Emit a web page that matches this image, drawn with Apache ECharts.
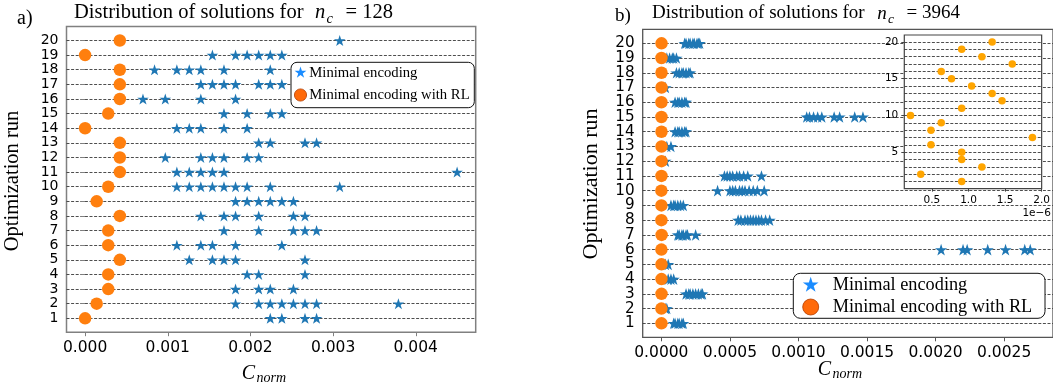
<!DOCTYPE html>
<html>
<head>
<meta charset="utf-8">
<script src="https://cdn.jsdelivr.net/npm/echarts@6/dist/echarts.min.js"></script>
<style>
  html, body { margin: 0; padding: 0; background: #fff; }
  #chart { width: 1053px; height: 392px; }
</style>
</head>
<body>
<div id="chart"></div>
<script>
// Optimization runs (y positions)
const runs = [1, 2, 3, 4, 5, 6, 7, 8, 9, 10, 11, 12, 13, 14, 15, 16, 17, 18, 19, 20];

// Panel a) n_c = 128 : best cost of RL-assisted runs, one per run
const rlA = [0, 0.00014, 0.00028, 0.00028, 0.00042, 0.00028, 0.00028, 0.00042, 0.00014, 0.00028,
             0.00042, 0.00042, 0.00042, 0, 0.00028, 0.00042, 0.00042, 0.00042, 0, 0.00042];

// Panel a) plain minimal encoding solutions per run (index = run - 1)
const minA = [
  [0.00224, 0.00238, 0.00266, 0.00280],
  [0.00182, 0.00210, 0.00224, 0.00238, 0.00252, 0.00266, 0.00280, 0.00379],
  [0.00182, 0.00210, 0.00224, 0.00252],
  [0.00196, 0.00210, 0.00266],
  [0.00126, 0.00154, 0.00168, 0.00182, 0.00266],
  [0.00111, 0.00140, 0.00154, 0.00182, 0.00238],
  [0.00168, 0.00210, 0.00252, 0.00266, 0.00280],
  [0.00140, 0.00168, 0.00182, 0.00210, 0.00252, 0.00266],
  [0.00182, 0.00196, 0.00210, 0.00224, 0.00238, 0.00252],
  [0.00111, 0.00126, 0.00140, 0.00154, 0.00168, 0.00182, 0.00196, 0.00224, 0.00308],
  [0.00111, 0.00126, 0.00140, 0.00154, 0.00168, 0.00450],
  [0.00097, 0.00140, 0.00154, 0.00168, 0.00196, 0.00210],
  [0.00210, 0.00224, 0.00266, 0.00280],
  [0.00111, 0.00126, 0.00140, 0.00168, 0.00196],
  [0.00168, 0.00196, 0.00224, 0.00238],
  [0.00070, 0.00097, 0.00140, 0.00182],
  [0.00140, 0.00154, 0.00168, 0.00182, 0.00210, 0.00224, 0.00238],
  [0.00084, 0.00111, 0.00126, 0.00140, 0.00168, 0.00224],
  [0.00154, 0.00182, 0.00196, 0.00210, 0.00224, 0.00238],
  [0.00308]
];

// Panel b) n_c = 3964 : RL-assisted results (also shown magnified in the inset)
const rlB = [0.907e-6, 0.347e-6, 1.183e-6, 0.907e-6, 0.907e-6, 0.487e-6, 1.874e-6, 0.487e-6, 0.627e-6, 0.207e-6,
             0.907e-6, 1.458e-6, 1.323e-6, 1.043e-6, 0.767e-6, 0.627e-6, 1.598e-6, 1.183e-6, 0.907e-6, 1.323e-6];

// Panel b) plain minimal encoding solutions per run
const minB = [
  [0.00009, 0.00010, 0.00012, 0.00013, 0.00015, 0.00016],
  [0.00003, 0.00004],
  [0.00018, 0.00020, 0.00021, 0.00023, 0.00025, 0.00027, 0.00029, 0.00030],
  [0.00005, 0.00007, 0.00009],
  [0.00003, 0.00005],
  [0.00204, 0.00220, 0.00223, 0.00238, 0.00251, 0.00265, 0.00269],
  [0.00012, 0.00013, 0.00015, 0.00016, 0.00018, 0.00019, 0.00025],
  [0.00056, 0.00058, 0.00061, 0.00063, 0.00065, 0.00067, 0.00069, 0.00071, 0.00073, 0.00076, 0.00079],
  [0.00007, 0.00009, 0.00010, 0.00012, 0.00014, 0.00016],
  [0.00041, 0.00050, 0.00052, 0.00054, 0.00057, 0.00059, 0.00061, 0.00064, 0.00067, 0.00070, 0.00075],
  [0.00046, 0.00048, 0.00050, 0.00052, 0.00055, 0.00057, 0.00060, 0.00063, 0.00073],
  [0.00003],
  [0.00004, 0.00007],
  [0.00010, 0.00012, 0.00013, 0.00015, 0.00017, 0.00018],
  [0.00106, 0.00108, 0.00111, 0.00114, 0.00117, 0.00126, 0.00130, 0.00141, 0.00147],
  [0.00010, 0.00012, 0.00013, 0.00015, 0.00017, 0.00018],
  [0.00003],
  [0.00011, 0.00013, 0.00015, 0.00016, 0.00018, 0.00020, 0.00021],
  [0.00004, 0.00006, 0.00008, 0.00009, 0.00011],
  [0.00017, 0.00018, 0.00020, 0.00021, 0.00023, 0.00024, 0.00026, 0.00027, 0.00028]
];

// Tick positions
const ticksA = [0, 0.001, 0.002, 0.003, 0.004];
const ticksB = [0, 0.0005, 0.001, 0.0015, 0.002, 0.0025];
const ticksInsetX = [0.5e-6, 1.0e-6, 1.5e-6, 2.0e-6];
const ticksInsetY = [5, 10, 15, 20];

const NAME_MIN = 'Minimal encoding';
const NAME_RL = 'Minimal encoding with RL';

// matplotlib-like five-pointed star (100x100 box, centre 50,50)
const STAR_PTS = [[50, 0], [61.2, 34.5], [97.6, 34.5], [68.2, 55.9], [79.4, 90.5],
                  [50, 69.1], [20.6, 90.5], [31.8, 55.9], [2.4, 34.5], [38.8, 34.5]];
const STAR = 'path://M' + STAR_PTS.map(p => p.join(',')).join('L') + 'Z';

const SERIF = '"Liberation Serif", "Times New Roman", serif';
const SANS = '"DejaVu Sans", sans-serif';

const toPoints = (lists) => lists.flatMap((xs, i) => xs.map(x => [x, runs[i]]));
const rlPoints = (vals) => vals.map((x, i) => [x, runs[i]]);

const gridDash = { color: '#3a3a3a', width: 0.9, type: [3, 1.6] };

function runAxis(gridIndex, frameColor, fontSize) {
  return {
    gridIndex, type: 'value', min: 0.05, max: 20.95,
    axisLine: { show: false },
    axisTick: { customValues: runs, length: 4, lineStyle: { color: frameColor, width: 1 } },
    axisLabel: { show: fontSize > 0, customValues: runs, margin: 8, fontFamily: SANS, fontSize: fontSize || 12, color: '#000',
                 showMinLabel: true, showMaxLabel: true, hideOverlap: false },
    splitLine: { show: true, lineStyle: gridDash }
  };
}

// Label-only run axis (odd or even runs) so the larger labels never collide
function runLabelAxis(gridIndex, values, fontSize) {
  return {
    gridIndex, type: 'value', min: 0.05, max: 20.95, position: 'left', offset: 0,
    axisLine: { show: false },
    axisTick: { show: false, customValues: values },
    axisLabel: { customValues: values, margin: 8, fontFamily: SANS, fontSize, color: '#000',
                 showMinLabel: true, showMaxLabel: true },
    splitLine: { show: false }
  };
}

// Legend key star as a polygon centred on (cx, cy)
function starKey(cx, cy, size, color) {
  return {
    type: 'polygon', z: 101,
    shape: { points: STAR_PTS.map(([x, y]) => [cx + (x - 50) * size / 100, cy + (y - 50) * size / 100]) },
    style: { fill: color }
  };
}

// Legend box drawn as a graphic group: rounded frame, star + circle keys, labels
function legendBox(x, y, w, h, r, keyX, row1, row2, textX, fontSize, starSize, dotR) {
  const txt = (t, yy) => ({
    type: 'text', x: textX, y: yy, z: 101,
    style: { text: t, fontFamily: SERIF, fontSize, fill: '#000', align: 'left', verticalAlign: 'middle' }
  });
  return {
    type: 'group', z: 100,
    children: [
      { type: 'rect', z: 100, shape: { x, y, width: w, height: h, r },
        style: { fill: '#fff', stroke: '#111', lineWidth: 1 } },
      starKey(keyX, row1, starSize, '#1a8cff'),
      { type: 'circle', z: 101, shape: { cx: keyX, cy: row2, r: dotR },
        style: { fill: '#ff6a0a', stroke: '#b33c00', lineWidth: 0.8 } },
      txt(NAME_MIN, row1 + 0.5),
      txt(NAME_RL, row2 + 0.5)
    ]
  };
}

const oddRuns = runs.filter(r => r % 2 === 1);
const evenRuns = runs.filter(r => r % 2 === 0);

const chart = echarts.init(document.getElementById('chart'), null, { renderer: 'canvas' });

chart.setOption({
  animation: false,
  backgroundColor: '#fff',
  grid: [
    { left: 66.5, top: 26.6, width: 409.2, height: 305.6, show: true, borderColor: '#808080', borderWidth: 1.5, backgroundColor: 'transparent' },
    { left: 642.7, top: 29.3, width: 417, height: 308, show: true, borderColor: '#555', borderWidth: 1.3, backgroundColor: 'transparent' },
    { left: 904.3, top: 35, width: 148, height: 153.6, show: true, borderColor: '#444', borderWidth: 1.2, backgroundColor: '#fff', z: 5 }
  ],
  xAxis: [
    {
      gridIndex: 0, type: 'value', min: -0.000225, max: 0.004725,
      axisLine: { show: false },
      axisTick: { customValues: ticksA, length: 4, lineStyle: { color: '#808080' } },
      axisLabel: { customValues: ticksA, margin: 8, fontFamily: SANS, fontSize: 15.5, color: '#000', formatter: v => v.toFixed(3) },
      splitLine: { show: false }
    },
    {
      gridIndex: 1, type: 'value', min: -0.000136, max: 0.002856,
      axisLine: { show: false },
      axisTick: { customValues: ticksB, length: 4, lineStyle: { color: '#555' } },
      axisLabel: { customValues: ticksB, margin: 8, fontFamily: SANS, fontSize: 15.5, color: '#000', formatter: v => v.toFixed(4) },
      splitLine: { show: false }
    },
    {
      gridIndex: 2, type: 'value', min: 0.122e-6, max: 2.0e-6, z: 6,
      axisLine: { show: false },
      axisTick: { customValues: ticksInsetX, length: 3, lineStyle: { color: '#444' } },
      axisLabel: { customValues: ticksInsetX, margin: 6, fontFamily: SANS, fontSize: 10.5, color: '#000',
                   showMaxLabel: true, formatter: v => (v * 1e6).toFixed(1) },
      splitLine: { show: false }
    }
  ],
  yAxis: [
    runAxis(0, '#808080', 14),
    runAxis(1, '#555', 0),
    runLabelAxis(1, oddRuns, 15.2),
    runLabelAxis(1, evenRuns, 15.2),
    {
      gridIndex: 2, type: 'value', min: 0.05, max: 20.95, z: 6,
      axisLine: { show: false },
      axisTick: { show: false, customValues: runs },
      axisLabel: { show: false },
      splitLine: { show: true, lineStyle: gridDash }
    },
    {
      gridIndex: 2, type: 'value', min: 0.05, max: 20.95, position: 'left', z: 6,
      axisLine: { show: false },
      axisTick: { customValues: ticksInsetY, length: 3, lineStyle: { color: '#444' } },
      axisLabel: { customValues: ticksInsetY, margin: 6, fontFamily: SANS, fontSize: 10.5, color: '#000' },
      splitLine: { show: false }
    }
  ],
  series: [
    { name: NAME_MIN, type: 'scatter', xAxisIndex: 0, yAxisIndex: 0, symbol: STAR, symbolSize: [11.6, 11],
      itemStyle: { color: '#1f77b4', opacity: 1 }, z: 3, data: toPoints(minA) },
    { name: NAME_RL, type: 'scatter', xAxisIndex: 0, yAxisIndex: 0, symbol: 'circle', symbolSize: 12.5,
      itemStyle: { color: '#ff7f0e', opacity: 1 }, z: 4, data: rlPoints(rlA) },
    { name: NAME_MIN, type: 'scatter', xAxisIndex: 1, yAxisIndex: 1, symbol: STAR, symbolSize: [12.2, 11.6],
      itemStyle: { color: '#1f77b4', opacity: 1 }, z: 3, data: toPoints(minB) },
    { name: NAME_RL, type: 'scatter', xAxisIndex: 1, yAxisIndex: 1, symbol: 'circle', symbolSize: 12.5,
      itemStyle: { color: '#ff7f0e', opacity: 1 }, z: 4, data: rlPoints(rlB) },
    { name: 'inset', type: 'scatter', xAxisIndex: 2, yAxisIndex: 4, symbol: 'circle', symbolSize: 7.5,
      itemStyle: { color: '#ffa500', opacity: 1 }, z: 8, data: rlPoints(rlB) }
  ],
  graphic: [
    legendBox(291, 62.3, 183.3, 45.4, 6, 300.5, 72.7, 95, 309.3, 14.7, 12.4, 6.1),
    legendBox(793.3, 273.3, 251.7, 45, 7, 810.7, 285, 307, 832.7, 18.3, 16.5, 8),

    { type: 'text', x: 17, y: 18.3, style: { text: 'a)', fontFamily: SERIF, fontSize: 20, fill: '#000', align: 'left', verticalAlign: 'middle' } },
    { type: 'text', x: 74, y: 13.1, style: { text: 'Distribution of solutions for', fontFamily: SERIF, fontSize: 20.5, fill: '#000', align: 'left', verticalAlign: 'middle' } },
    { type: 'text', x: 315, y: 13.1, style: { text: 'n', fontFamily: SERIF, fontStyle: 'italic', fontSize: 20.5, fill: '#000', align: 'left', verticalAlign: 'middle' } },
    { type: 'text', x: 326.5, y: 19, style: { text: 'c', fontFamily: SERIF, fontStyle: 'italic', fontSize: 14.5, fill: '#000', align: 'left', verticalAlign: 'middle' } },
    { type: 'text', x: 345.5, y: 13.1, style: { text: '= 128', fontFamily: SERIF, fontSize: 20.5, fill: '#000', align: 'left', verticalAlign: 'middle' } },

    { type: 'text', x: 615, y: 16, style: { text: 'b)', fontFamily: SERIF, fontSize: 19, fill: '#000', align: 'left', verticalAlign: 'middle' } },
    { type: 'text', x: 652, y: 13.5, style: { text: 'Distribution of solutions for', fontFamily: SERIF, fontSize: 19, fill: '#000', align: 'left', verticalAlign: 'middle' } },
    { type: 'text', x: 877.3, y: 13.5, style: { text: 'n', fontFamily: SERIF, fontStyle: 'italic', fontSize: 19, fill: '#000', align: 'left', verticalAlign: 'middle' } },
    { type: 'text', x: 888, y: 19, style: { text: 'c', fontFamily: SERIF, fontStyle: 'italic', fontSize: 13.5, fill: '#000', align: 'left', verticalAlign: 'middle' } },
    { type: 'text', x: 906.5, y: 13.5, style: { text: '= 3964', fontFamily: SERIF, fontSize: 19, fill: '#000', align: 'left', verticalAlign: 'middle' } },

    { type: 'text', x: 13, y: 181, rotation: Math.PI / 2, style: { text: 'Optimization run', fontFamily: SERIF, fontSize: 20.5, fill: '#000', align: 'center', verticalAlign: 'middle' } },
    { type: 'text', x: 591, y: 184, rotation: Math.PI / 2, style: { text: 'Optimization run', fontFamily: SERIF, fontSize: 22, fill: '#000', align: 'center', verticalAlign: 'middle' } },

    { type: 'text', x: 241.7, y: 373.5, style: { text: 'C', fontFamily: SERIF, fontStyle: 'italic', fontSize: 20, fill: '#000', align: 'left', verticalAlign: 'middle' } },
    { type: 'text', x: 256.5, y: 378, style: { text: 'norm', fontFamily: SERIF, fontStyle: 'italic', fontSize: 14, fill: '#000', align: 'left', verticalAlign: 'middle' } },
    { type: 'text', x: 817.7, y: 370, style: { text: 'C', fontFamily: SERIF, fontStyle: 'italic', fontSize: 20, fill: '#000', align: 'left', verticalAlign: 'middle' } },
    { type: 'text', x: 832.5, y: 374.5, style: { text: 'norm', fontFamily: SERIF, fontStyle: 'italic', fontSize: 14, fill: '#000', align: 'left', verticalAlign: 'middle' } },

    { type: 'text', x: 1051, y: 213, z: 20, style: { text: '1e\u22126', fontFamily: SANS, fontSize: 10.5, fill: '#000', align: 'right', verticalAlign: 'middle' } }
  ]
});
</script>
</body>
</html>
